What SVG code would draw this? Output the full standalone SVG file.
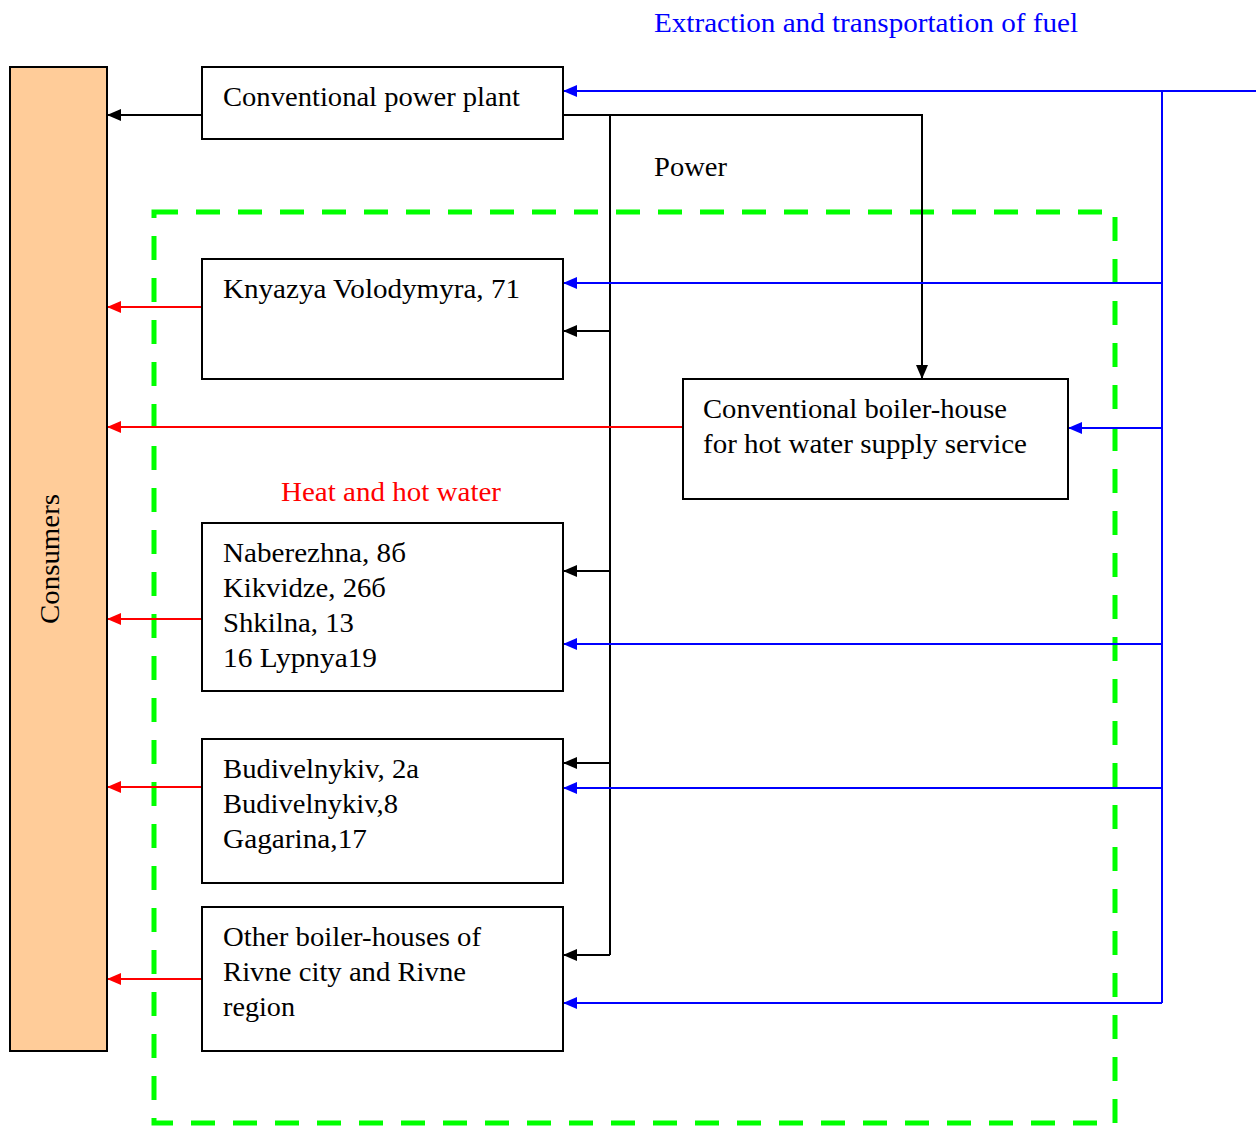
<svg xmlns="http://www.w3.org/2000/svg" width="1256" height="1126" viewBox="0 0 1256 1126">
<style>
text{font-family:"Liberation Serif","Times New Roman",serif;font-size:27px;fill:#000}
.box{fill:#fff;stroke:#000;stroke-width:2}
.k{stroke:#000;stroke-width:2;fill:none}
.b{stroke:#0000ff;stroke-width:2;fill:none}
.r{stroke:#ff0000;stroke-width:2;fill:none}
</style>
<defs>
<marker id="ak" markerWidth="14" markerHeight="12" refX="14" refY="6" orient="auto" markerUnits="userSpaceOnUse"><path d="M0,0L14,6L0,12z" fill="#000"/></marker>
<marker id="ab" markerWidth="14" markerHeight="12" refX="14" refY="6" orient="auto" markerUnits="userSpaceOnUse"><path d="M0,0L14,6L0,12z" fill="#0000ff"/></marker>
<marker id="ar" markerWidth="14" markerHeight="12" refX="14" refY="6" orient="auto" markerUnits="userSpaceOnUse"><path d="M0,0L14,6L0,12z" fill="#ff0000"/></marker>
</defs>
<rect x="0" y="0" width="1256" height="1126" fill="#fff"/>
<g id="boundary"><rect x="154" y="212" width="961" height="911" fill="none" stroke="#00ff00" stroke-width="5" stroke-dasharray="24 18"/></g>
<g id="labels">
<text x="654" y="32" textLength="424" lengthAdjust="spacingAndGlyphs" style="fill:#0000ff">Extraction and transportation of fuel</text>
<text x="654" y="176" textLength="73" lengthAdjust="spacingAndGlyphs">Power</text>
<text x="281" y="501" textLength="220" lengthAdjust="spacingAndGlyphs" style="fill:#ff0000">Heat and hot water</text>
</g>
<g id="connectors">
<path class="k" d="M202,115H107" marker-end="url(#ak)"/>
<path class="k" d="M563,115H922V379" marker-end="url(#ak)"/>
<path class="k" d="M610,115V955"/>
<path class="k" d="M610,331H563" marker-end="url(#ak)"/>
<path class="k" d="M610,571H563" marker-end="url(#ak)"/>
<path class="k" d="M610,763H563" marker-end="url(#ak)"/>
<path class="k" d="M610,955H563" marker-end="url(#ak)"/>
<path class="b" d="M1256,91H563" marker-end="url(#ab)"/>
<path class="b" d="M1162,91V1003"/>
<path class="b" d="M1162,283H563" marker-end="url(#ab)"/>
<path class="b" d="M1162,428H1068" marker-end="url(#ab)"/>
<path class="b" d="M1162,644H563" marker-end="url(#ab)"/>
<path class="b" d="M1162,788H563" marker-end="url(#ab)"/>
<path class="b" d="M1162,1003H563" marker-end="url(#ab)"/>
<path class="r" d="M202,307H107" marker-end="url(#ar)"/>
<path class="r" d="M683,427H107" marker-end="url(#ar)"/>
<path class="r" d="M202,619H107" marker-end="url(#ar)"/>
<path class="r" d="M202,787H107" marker-end="url(#ar)"/>
<path class="r" d="M202,979H107" marker-end="url(#ar)"/>
</g>
<g id="consumers"><rect x="10" y="67" width="97" height="984" fill="#ffcc99" stroke="#000" stroke-width="2"/><text transform="translate(59,559) rotate(-90)" text-anchor="middle" textLength="130" lengthAdjust="spacingAndGlyphs">Consumers</text></g>
<g id="power-plant"><rect class="box" x="202" y="67" width="361" height="72"/><text x="223" y="106" textLength="297" lengthAdjust="spacingAndGlyphs">Conventional power plant</text></g>
<g id="knyazya"><rect class="box" x="202" y="259" width="361" height="120"/><text x="223" y="298" textLength="297" lengthAdjust="spacingAndGlyphs">Knyazya Volodymyra, 71</text></g>
<g id="boiler-house"><rect class="box" x="683" y="379" width="385" height="120"/><text x="703" y="418" textLength="304" lengthAdjust="spacingAndGlyphs">Conventional boiler-house</text><text x="703" y="453" textLength="324" lengthAdjust="spacingAndGlyphs">for hot water supply service</text></g>
<g id="naberezhna"><rect class="box" x="202" y="523" width="361" height="168"/><text x="223" y="562" textLength="183" lengthAdjust="spacingAndGlyphs">Naberezhna, 8б</text><text x="223" y="597" textLength="163" lengthAdjust="spacingAndGlyphs">Kikvidze, 26б</text><text x="223" y="632" textLength="131" lengthAdjust="spacingAndGlyphs">Shkilna, 13</text><text x="223" y="667" textLength="154" lengthAdjust="spacingAndGlyphs">16 Lypnya19</text></g>
<g id="budivelnykiv"><rect class="box" x="202" y="739" width="361" height="144"/><text x="223" y="778" textLength="196" lengthAdjust="spacingAndGlyphs">Budivelnykiv, 2a</text><text x="223" y="813" textLength="175" lengthAdjust="spacingAndGlyphs">Budivelnykiv,8</text><text x="223" y="848" textLength="144" lengthAdjust="spacingAndGlyphs">Gagarina,17</text></g>
<g id="other"><rect class="box" x="202" y="907" width="361" height="144"/><text x="223" y="946" textLength="258" lengthAdjust="spacingAndGlyphs">Other boiler-houses of</text><text x="223" y="981" textLength="243" lengthAdjust="spacingAndGlyphs">Rivne city and Rivne</text><text x="223" y="1016" textLength="72" lengthAdjust="spacingAndGlyphs">region</text></g>
</svg>
